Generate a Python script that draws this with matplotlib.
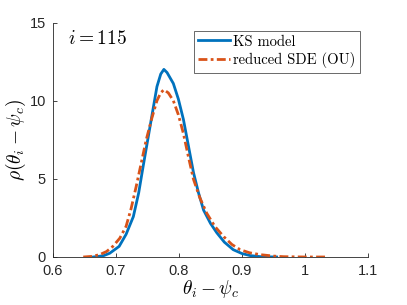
import matplotlib
matplotlib.use('Agg')
import matplotlib.pyplot as plt

plt.rcParams['mathtext.fontset'] = 'cm'
plt.rcParams['font.family'] = ['Liberation Sans', 'DejaVu Sans']

# KS model density
ks_x = [0.664, 0.680, 0.690, 0.705, 0.716, 0.7275, 0.736, 0.743, 0.754, 0.765,
        0.771, 0.776, 0.781, 0.791, 0.799, 0.807, 0.815, 0.823, 0.831, 0.839,
        0.850, 0.860, 0.872, 0.886, 0.900, 0.913, 0.930, 0.955]
ks_y = [0.0, 0.08, 0.24, 0.68, 1.45, 2.58, 4.1, 5.78, 8.34, 10.9,
        11.7, 12.0, 11.8, 11.1, 10.1, 8.8, 7.1, 5.4, 4.1, 3.0,
        2.15, 1.55, 0.95, 0.47, 0.22, 0.09, 0.02, 0.0]

# reduced SDE (OU) density
ou_x = [0.648, 0.662, 0.674, 0.685, 0.695, 0.706, 0.716, 0.724, 0.732, 0.740,
        0.748, 0.757, 0.765, 0.771, 0.776, 0.783, 0.791, 0.799, 0.807, 0.815,
        0.823, 0.833, 0.844, 0.857, 0.871, 0.884, 0.897, 0.912, 0.929, 0.950,
        0.966, 1.000, 1.037]
ou_y = [0.0, 0.04, 0.15, 0.35, 0.68, 1.2, 1.96, 3.1, 4.5, 6.0,
        7.5, 8.9, 10.0, 10.5, 10.7, 10.5, 10.0, 9.1, 7.9, 6.4,
        4.97, 3.8, 2.8, 1.95, 1.3, 0.8, 0.47, 0.27, 0.15, 0.06,
        0.02, 0.0, 0.0]

xticks = [0.6, 0.7, 0.8, 0.9, 1.0, 1.1]
xtick_labels = ['0.6', '0.7', '0.8', '0.9', '1', '1.1']
yticks = [0, 5, 10, 15]

fig = plt.figure(figsize=(4.07, 3.05), dpi=100)
ax = fig.add_axes([53 / 407, 1 - 257 / 305, (368 - 53) / 407, (257 - 22.5) / 305])

ax.plot(ks_x, ks_y, color='#0072BD', lw=2, label='KS model')
ax.plot(ou_x, ou_y, color='#D95319', lw=2, ls=(0, (3.2, 1.2, 1, 1.2)), label='reduced SDE (OU)')

ax.set_xlim(0.6, 1.1)
ax.set_ylim(0, 15)
ax.set_xticks(xticks)
ax.set_xticklabels(xtick_labels)
ax.set_yticks(yticks)
ax.tick_params(direction='in', length=3, labelsize=10.5, colors='#262626', width=0.6)
ax.tick_params(axis='x', pad=5)
ax.tick_params(axis='y', pad=5)
for s in ['top', 'right']:
    ax.spines[s].set_visible(False)
for s in ['left', 'bottom']:
    ax.spines[s].set_color('#262626')
    ax.spines[s].set_linewidth(0.6)

ax.set_xlabel(r'$\theta_i - \psi_c$', fontsize=14, labelpad=0)
ax.set_ylabel(r'$\rho(\theta_i - \psi_c)$', fontsize=14, labelpad=1)
ax.text(0.624, 13.6, r'$i = 115$', fontsize=14)

leg = ax.legend(loc='upper right', bbox_to_anchor=(1.0 - 8 / 315, 1.0 - 8 / 234.5),
                prop={'family': 'cmr10', 'size': 10.5}, fancybox=False,
                edgecolor='#262626', handlelength=2.2, handletextpad=0.2,
                borderpad=0.3, labelspacing=0.25, borderaxespad=0)
leg.get_frame().set_linewidth(0.6)

fig.savefig('out.png', dpi=100)
